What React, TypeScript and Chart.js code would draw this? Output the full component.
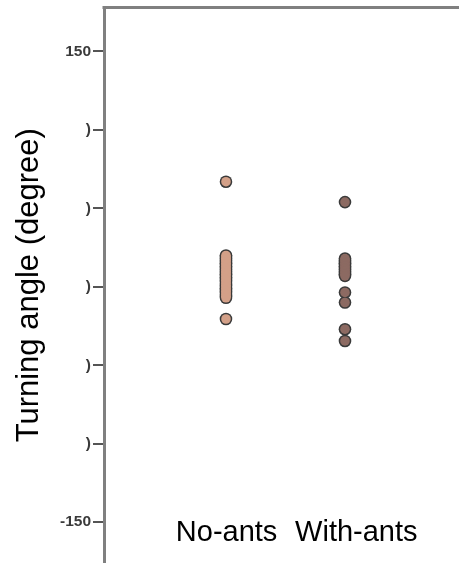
import React, { useEffect, useRef } from "react";
import { Chart, registerables } from "chart.js";

Chart.register(...registerables);

const categories = ["No-ants", "With-ants"];
const noAnts = [
  67, 20, 19, 18, 17, 16, 15, 14, 13, 12, 11, 10, 9, 8, 7, 6, 5, 4, 3, 2, 1, 0, -1, -2, -3, -4, -5, -6, -7,
  -20.5,
];
const withAnts = [54, 18, 17, 16, 15, 14, 13, 12, 11, 10, 9, 8, 7, -3.6, -10, -27, -34.5];
const yTickValues = [-150, -100, -50, 0, 50, 100, 150];
const yTickLabels = ["-150", ")", ")", ")", ")", ")", "150"];
const yTitle = "Turning angle (degree)";

const FILL_NO = "#d3a088";
const FILL_WITH = "#8c6a62";
const OUTLINE = "#3a3a3a";

const topBorder = {
  id: "topBorder",
  afterDraw(chart: any) {
    const { ctx, chartArea } = chart;
    ctx.save();
    ctx.strokeStyle = "#808080";
    ctx.lineWidth = 3;
    ctx.beginPath();
    ctx.moveTo(chartArea.left - 1.5, chartArea.top);
    ctx.lineTo(chartArea.right, chartArea.top);
    ctx.stroke();
    ctx.restore();
  },
};

function layers(label: string, values: number[], x: number, fill: string) {
  const pts = values.map((v) => ({ x, y: v }));
  return [
    {
      label: label + " outline",
      data: pts,
      backgroundColor: OUTLINE,
      borderColor: OUTLINE,
      borderWidth: 0,
      pointRadius: 6.3,
      order: 2,
    },
    {
      label,
      data: pts,
      backgroundColor: fill,
      borderWidth: 0,
      pointRadius: 4.8,
      order: 1,
    },
  ];
}

export default function App() {
  const ref = useRef<HTMLCanvasElement>(null);
  useEffect(() => {
    if (!ref.current) return;
    const chart = new Chart(ref.current, {
      type: "scatter",
      data: {
        datasets: [
          ...layers(categories[0], noAnts, 1, FILL_NO),
          ...layers(categories[1], withAnts, 2, FILL_WITH),
        ] as any,
      },
      options: {
        animation: false,
        responsive: false,
        layout: { autoPadding: false, padding: { top: 7.5, left: 0, right: 0, bottom: 0 } },
        plugins: { legend: { display: false }, tooltip: { enabled: false } },
        scales: {
          x: {
            type: "linear",
            position: { y: -141 } as any,
            min: -0.025,
            max: 2.958,
            grid: { display: false },
            border: { display: false },
            afterBuildTicks: (scale: any) => {
              scale.ticks = [{ value: 1.005 }, { value: 2.095 }];
            },
            ticks: {
              autoSkip: false,
              maxRotation: 0,
              padding: 0,
              color: "#000",
              font: { family: "'Liberation Sans', Arial, sans-serif", size: 29 },
              callback: (_v: any, i: number) => categories[i],
            },
          },
          y: {
            type: "linear",
            min: -176,
            max: 178,
            afterFit: (scale: any) => {
              scale.width = 104;
              scale.paddingTop = 0;
              scale.paddingBottom = 0;
            },
            afterBuildTicks: (scale: any) => {
              scale.ticks = yTickValues.map((v) => ({ value: v }));
            },
            border: { display: true, color: "#808080", width: 3 },
            grid: { drawOnChartArea: false, tickLength: 11, tickColor: "#555", lineWidth: 2 },
            ticks: {
              padding: 2,
              color: "#3a3a3a",
              font: { family: "'Liberation Sans', Arial, sans-serif", size: 15.5, weight: "bold" },
              callback: (_v: any, i: number) => yTickLabels[i],
            },
            title: {
              display: true,
              text: yTitle,
              color: "#000",
              padding: { top: 11, bottom: 0 },
              font: { family: "'Liberation Sans', Arial, sans-serif", size: 31 },
            },
          },
        },
      },
      plugins: [topBorder],
    });
    return () => chart.destroy();
  }, []);
  return (
    <div style={{ position: "fixed", left: 0, top: 0, width: 459, height: 563, background: "#fff" }}>
      <canvas ref={ref} width={459} height={563} style={{ display: "block" }} />
    </div>
  );
}
